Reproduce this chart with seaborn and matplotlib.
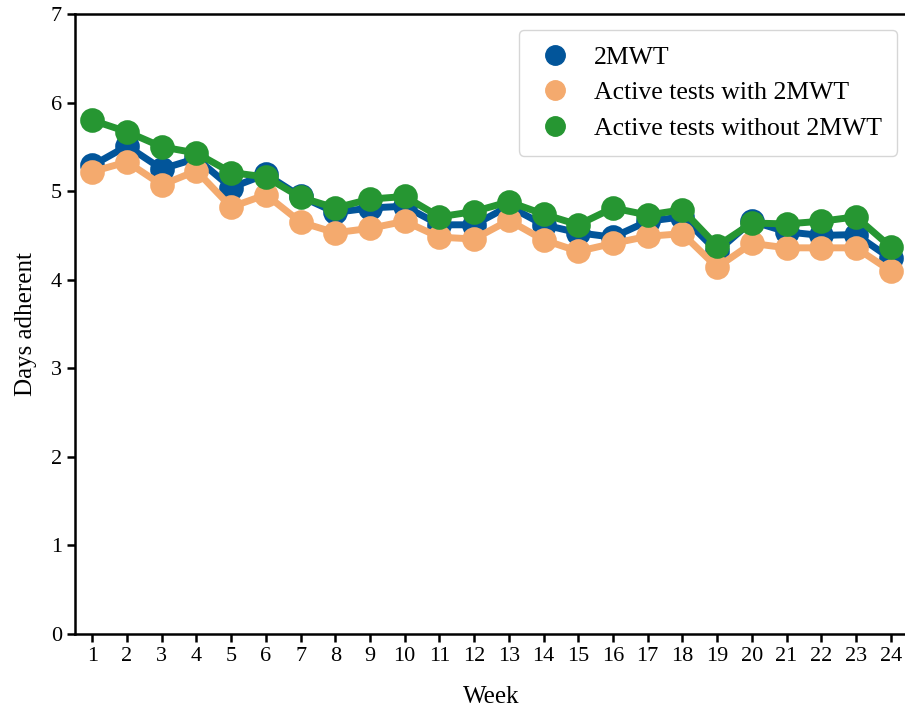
import pandas as pd
import matplotlib
matplotlib.use("Agg")
import matplotlib.pyplot as plt
import seaborn as sns
from matplotlib.lines import Line2D

weeks = list(range(1, 25))
mwt2 = [5.29, 5.51, 5.25, 5.37, 5.04, 5.19, 4.94, 4.76, 4.81, 4.83, 4.62, 4.62,
        4.83, 4.62, 4.53, 4.48, 4.66, 4.71, 4.32, 4.66, 4.54, 4.50, 4.51, 4.24]
active_with = [5.22, 5.33, 5.07, 5.23, 4.82, 4.96, 4.65, 4.53, 4.58, 4.66, 4.48, 4.46,
               4.67, 4.45, 4.32, 4.41, 4.49, 4.52, 4.14, 4.41, 4.36, 4.36, 4.36, 4.10]
active_without = [5.80, 5.67, 5.50, 5.43, 5.21, 5.16, 4.93, 4.81, 4.91, 4.94, 4.71, 4.77,
                  4.88, 4.74, 4.62, 4.81, 4.73, 4.79, 4.38, 4.64, 4.63, 4.66, 4.71, 4.37]

series_names = ["2MWT", "Active tests with 2MWT", "Active tests without 2MWT"]
colors = ["#02559A", "#F4AA6E", "#269632"]

df = pd.DataFrame({
    "Week": weeks * 3,
    "Days adherent": mwt2 + active_with + active_without,
    "Test": [series_names[0]] * 24 + [series_names[1]] * 24 + [series_names[2]] * 24,
})

sns.set_style("ticks")
plt.rcParams['font.family'] = ['Liberation Serif', 'DejaVu Serif']
plt.rcParams['text.color'] = 'black'
plt.rcParams['axes.labelcolor'] = 'black'
plt.rcParams['xtick.color'] = 'black'
plt.rcParams['ytick.color'] = 'black'
plt.rcParams['axes.edgecolor'] = 'black'

fig = plt.figure(figsize=(9.05, 7.15), dpi=100)
ax = fig.add_axes([75 / 905, 81 / 715, 833 / 905, 620 / 715])

sns.pointplot(data=df, x="Week", y="Days adherent", hue="Test", hue_order=series_names,
              palette=colors, markers="o", linestyles="-", markersize=14, linewidth=5,
              errorbar=None, ax=ax, legend=False)

ax.set_ylim(0, 7)
ax.set_yticks(range(0, 8))
ax.set_xlim(-0.5, 23.5)
ax.tick_params(labelsize=16, width=1.8, length=6)
for s in ax.spines.values():
    s.set_linewidth(1.8)
ax.set_xlabel("Week", fontsize=18, labelpad=14)
ax.set_ylabel("Days adherent", fontsize=18, labelpad=10)

handles = [Line2D([0], [0], marker="o", linestyle="", color=c, markersize=14) for c in colors]
ax.legend(handles, series_names, loc="upper right", bbox_to_anchor=(0.987, 0.974),
          borderaxespad=0, fontsize=18.5, frameon=True, handletextpad=0.7, borderpad=0.6,
          labelspacing=0.5, handlelength=1.6)

fig.savefig("out.png", dpi=100)
